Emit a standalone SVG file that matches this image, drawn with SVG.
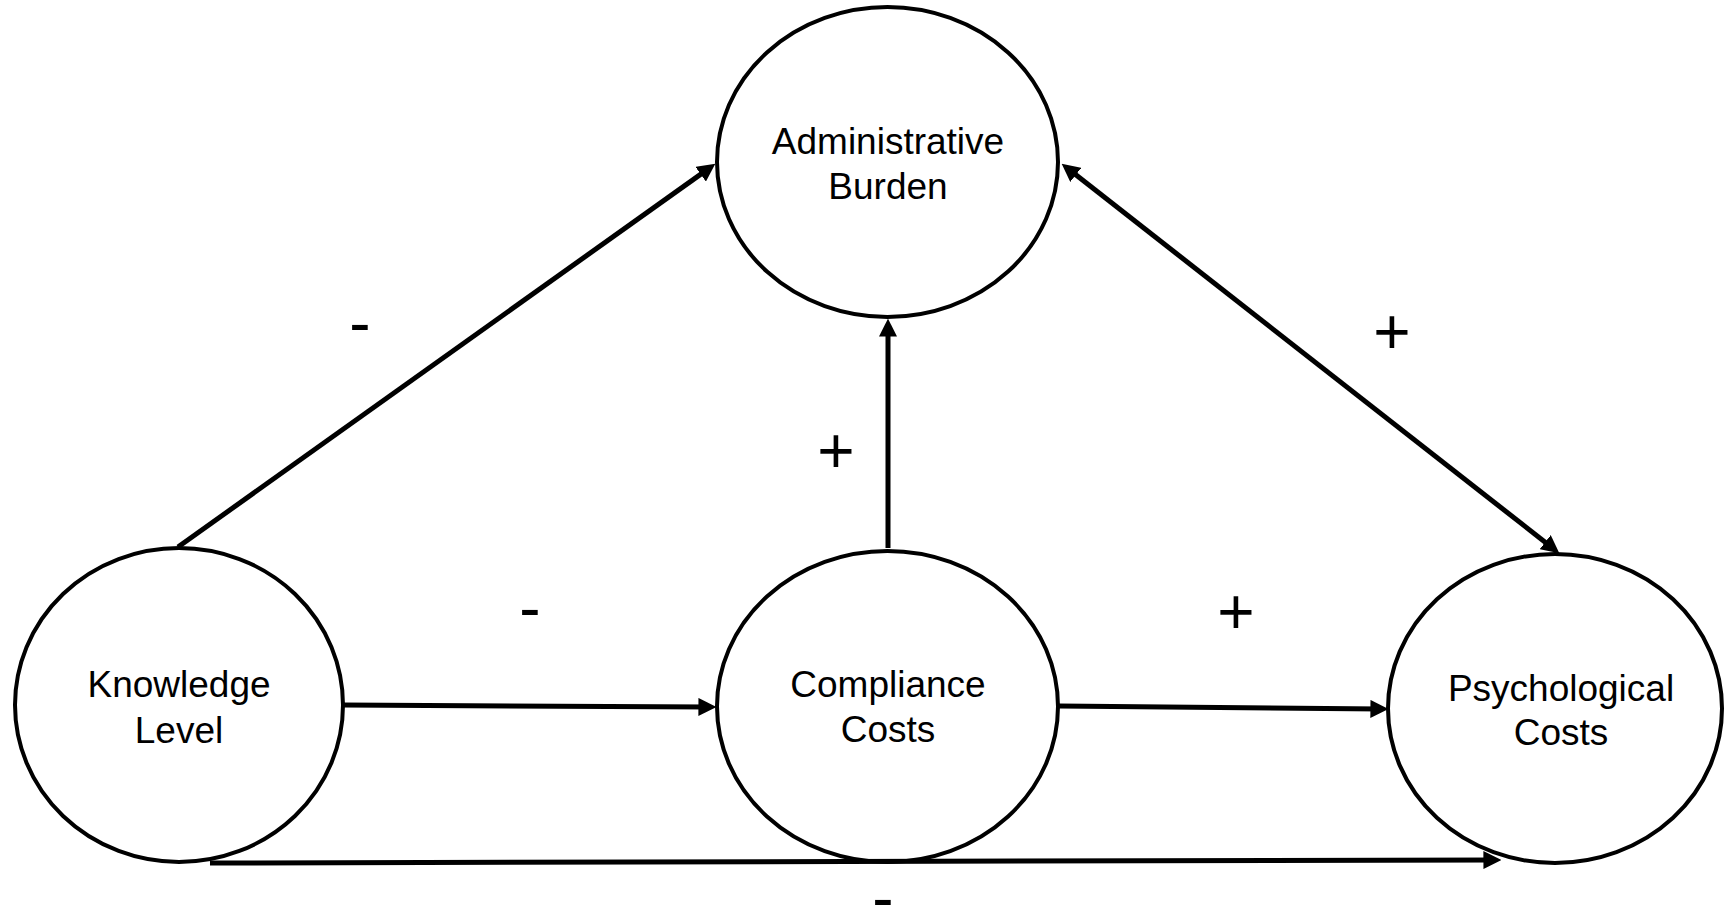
<svg xmlns="http://www.w3.org/2000/svg" width="1724" height="910" viewBox="0 0 1724 910">
<style>
.node{fill:#fff;stroke:#000;stroke-width:4}
.lbl{font-family:"Liberation Sans",Arial,sans-serif;font-size:37px;fill:#000;text-anchor:middle}
.sign{font-family:"Liberation Sans",Arial,sans-serif;font-size:64px;fill:#000;text-anchor:middle}
.edge{stroke:#000;stroke-width:5;fill:none}
</style>
<defs>
<marker id="arr" markerUnits="userSpaceOnUse" markerWidth="18" markerHeight="18" viewBox="0 0 17 17" refX="10" refY="8.5" orient="auto-start-reverse">
<path d="M0,0 L17,8.5 L0,17 Z" fill="#000"/>
</marker>
</defs>
<rect width="1724" height="910" fill="#fff"/>
<g id="n-admin">
<ellipse class="node" cx="887.5" cy="162" rx="170.5" ry="155"/>
<text class="lbl" x="888" y="154">Administrative</text>
<text class="lbl" x="888" y="199">Burden</text>
</g>
<g id="n-knowledge">
<ellipse class="node" cx="179" cy="705" rx="164" ry="157"/>
<text class="lbl" x="179" y="697">Knowledge</text>
<text class="lbl" x="179" y="743">Level</text>
</g>
<g id="n-compliance">
<ellipse class="node" cx="887.5" cy="706.5" rx="170.5" ry="155.5"/>
<text class="lbl" x="888" y="697">Compliance</text>
<text class="lbl" x="888" y="742">Costs</text>
</g>
<g id="n-psych">
<ellipse class="node" cx="1555" cy="708.5" rx="167" ry="154.5"/>
<text class="lbl" x="1561" y="701">Psychological</text>
<text class="lbl" x="1561" y="745">Costs</text>
</g>
<g id="connectors">
<line class="edge" x1="178" y1="547" x2="709.3" y2="168.1" marker-end="url(#arr)"/>
<line class="edge" x1="888" y1="548" x2="888" y2="326" marker-end="url(#arr)"/>
<line class="edge" x1="1067.5" y1="168.3" x2="1553.5" y2="548.7" marker-start="url(#arr)" marker-end="url(#arr)"/>
<line class="edge" x1="343" y1="705" x2="709" y2="707" marker-end="url(#arr)"/>
<line class="edge" x1="1059" y1="706" x2="1381" y2="709" marker-end="url(#arr)"/>
<line class="edge" x1="210" y1="863" x2="1494" y2="860" marker-end="url(#arr)"/>
<text class="sign" x="360" y="345">-</text>
<text class="sign" x="1392" y="354">+</text>
<text class="sign" x="836" y="473">+</text>
<text class="sign" x="530" y="630">-</text>
<text class="sign" x="1236" y="634">+</text>
<text class="sign" x="883" y="920">-</text>
</g>
</svg>
